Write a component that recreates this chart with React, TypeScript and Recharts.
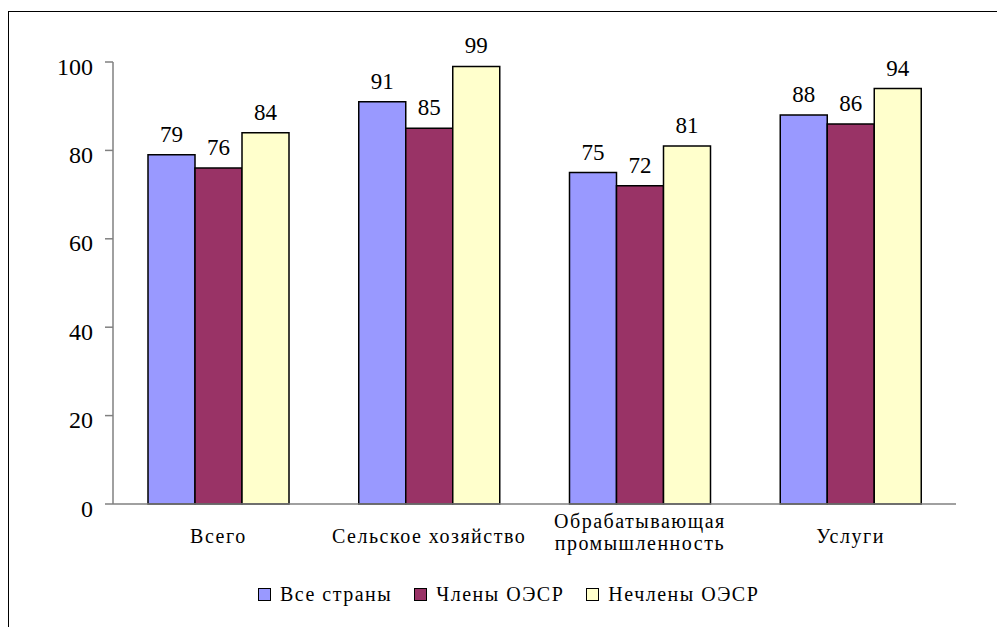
import { Bar, BarChart, LabelList, XAxis, YAxis } from "recharts";

const categories = [
  "Всего",
  "Сельское хозяйство",
  "Обрабатывающая\nпромышленность",
  "Услуги",
];
const allCountries = [79, 91, 75, 88];
const oecdMembers = [76, 85, 72, 86];
const nonMembers = [84, 99, 81, 94];
const yTicks = [0, 20, 40, 60, 80, 100];
const boundaryTicks = [0, 1, 2, 3, 4];

const SERIES = [
  { key: "all", name: "Все страны", color: "#9999FF" },
  { key: "oecd", name: "Члены ОЭСР", color: "#993366" },
  { key: "non", name: "Нечлены ОЭСР", color: "#FFFFCC" },
];

const FONT = "Liberation Serif";

const data = categories.map((name, i) => ({
  name,
  all: allCountries[i],
  oecd: oecdMembers[i],
  non: nonMembers[i],
}));

function CategoryTick({ x, y, payload }: any) {
  const lines = String(payload.value).split("\n");
  const base = y + 30 - (lines.length - 1) * 15;
  return (
    <text
      x={x}
      y={base}
      textAnchor="middle"
      fontFamily={FONT}
      fontSize={20}
      letterSpacing={1.5}
      fill="#000"
    >
      {lines.map((l, i) => (
        <tspan key={i} x={x} dy={i === 0 ? 0 : 22}>
          {l}
        </tspan>
      ))}
    </text>
  );
}

export default function App() {
  return (
    <div
      style={{
        position: "relative",
        width: 997,
        height: 619,
        fontFamily: FONT,
      }}
    >
      <div
        style={{
          position: "absolute",
          left: -1,
          top: 3,
          width: 998,
          height: 616,
          borderLeft: "2px solid #000",
          borderTop: "1.5px solid #000",
          boxSizing: "border-box",
        }}
      />
      <BarChart
        width={997}
        height={619}
        data={data}
        margin={{ top: 54, right: 49, left: 0, bottom: 62 }}
        barCategoryGap={35}
        barGap={0}
        style={{ position: "absolute", left: 0, top: 0, fontFamily: FONT }}
      >
        <XAxis
          xAxisId={0}
          type="number"
          domain={[0, 4]}
          ticks={boundaryTicks}
          allowDataOverflow
          height={1}
          tick={false}
          tickSize={8}
          axisLine={{ stroke: "#808080", strokeWidth: 1.5 }}
          tickLine={{ stroke: "#808080", strokeWidth: 1.5 }}
        />
        <XAxis
          xAxisId={1}
          dataKey="name"
          height={60}
          interval={0}
          axisLine={false}
          tickLine={false}
          tick={<CategoryTick />}
        />
        <YAxis
          width={105}
          domain={[0, 100]}
          ticks={yTicks}
          interval={0}
          tickSize={8}
          tickMargin={12}
          axisLine={{ stroke: "#808080", strokeWidth: 1.5 }}
          tickLine={{ stroke: "#808080", strokeWidth: 1.5 }}
          tick={{ fontFamily: FONT, fontSize: 24, fill: "#000", dy: 4 }}
        />
        {SERIES.map((s) => (
          <Bar
            key={s.key}
            xAxisId={1}
            dataKey={s.key}
            name={s.name}
            fill={s.color}
            stroke="#000"
            strokeWidth={1.5}
            isAnimationActive={false}
          >
            <LabelList
              dataKey={s.key}
              position="top"
              offset={13}
              fontFamily={FONT}
              fontSize={23}
              fill="#000"
            />
          </Bar>
        ))}
      </BarChart>
      <div
        style={{
          position: "absolute",
          left: 250,
          top: 575,
          display: "flex",
          alignItems: "center",
          fontSize: 20,
          letterSpacing: 1.5,
          color: "#000",
        }}
      >
        {SERIES.map((s) => (
          <div
            key={s.key}
            style={{ display: "flex", alignItems: "center", marginRight: 22 }}
          >
            <span
              style={{
                width: 13,
                height: 13,
                background: s.color,
                border: "1.5px solid #000",
                boxSizing: "border-box",
                marginRight: 9,
              }}
            />
            <span>{s.name}</span>
          </div>
        ))}
      </div>
    </div>
  );
}
